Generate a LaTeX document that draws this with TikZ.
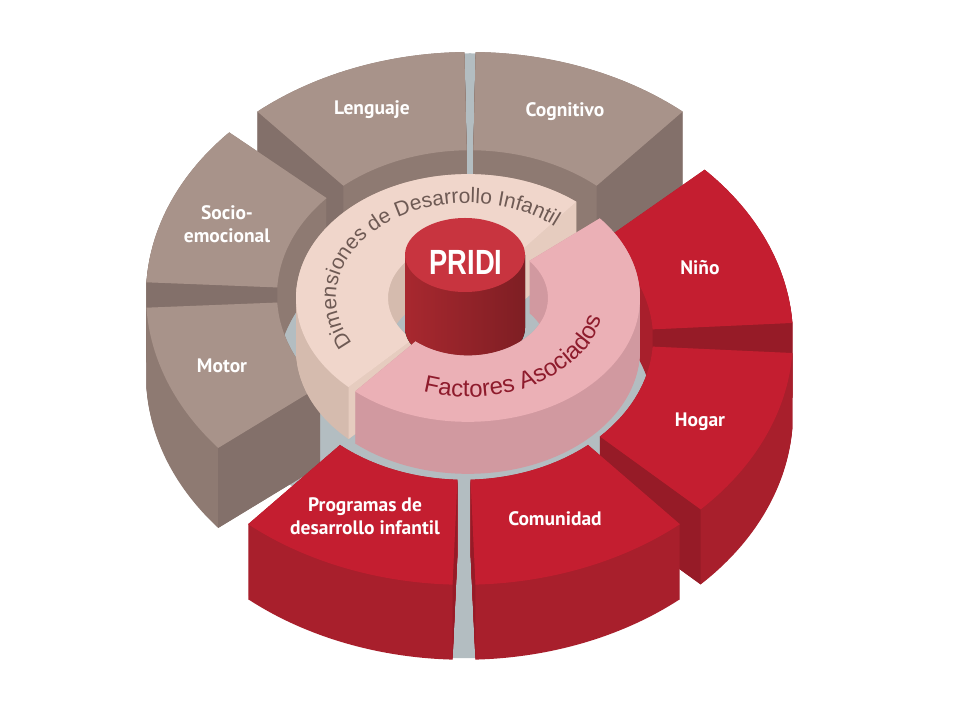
\documentclass[tikz,border=0pt]{standalone}
\usepackage{fontspec}
\setmainfont{Liberation Sans}
\newfontfamily\segfont{PT Sans}
\usetikzlibrary{decorations.text}

\definecolor{floortop}{HTML}{B3BDC1}
\definecolor{floorside}{HTML}{B3BDC1}
\definecolor{floorend}{HTML}{B3BDC1}
\definecolor{browntop}{HTML}{A8938A}
\definecolor{brownside}{HTML}{8E7A72}
\definecolor{brownend}{HTML}{83706A}
\definecolor{redtop}{HTML}{C41E30}
\definecolor{redside}{HTML}{A81F2C}
\definecolor{redend}{HTML}{961B27}
\definecolor{dimtop}{HTML}{F0D6CB}
\definecolor{dimside}{HTML}{D5BBAE}
\definecolor{dimend}{HTML}{E6CCBF}
\definecolor{factop}{HTML}{EBB0B6}
\definecolor{facside}{HTML}{D199A0}
\definecolor{facend}{HTML}{C48C92}
\definecolor{cyltop}{HTML}{C8343F}
\definecolor{cylside}{HTML}{A8282F}
\definecolor{dimtext}{HTML}{6E5A54}
\definecolor{factext}{HTML}{8E1B2C}

\newcommand{\dimfont}{\fontsize{21}{21}\selectfont}
\newcommand{\facfont}{\fontsize{24}{24}\selectfont}

% #1 centre, #2 yscale, #3 inner r, #4 outer r, #5 start, #6 end, #7 depth, #8 colour set
\newcommand{\ringpiece}[8]{%
  \begin{scope}[shift={#1}]
    \foreach \z in {0,...,#7}
      \fill[#8side, yshift=-\z, yscale=#2] (#5:#4) arc[start angle=#5, end angle=#6, radius=#4]
        -- (#6:#3) arc[start angle=#6, end angle=#5, radius=#3] -- cycle;
    \pgfmathtruncatemacro{\showa}{cos(#5)>0}
    \pgfmathtruncatemacro{\showb}{cos(#6)<0}
    \ifnum\showa=1
      \fill[#8end] ({#3*cos(#5)},{#2*#3*sin(#5)}) -- ({#4*cos(#5)},{#2*#4*sin(#5)})
        -- ++(0,-#7) -- ({#3*cos(#5)},{#2*#3*sin(#5)-#7}) -- cycle;
    \fi
    \ifnum\showb=1
      \fill[#8end] ({#3*cos(#6)},{#2*#3*sin(#6)}) -- ({#4*cos(#6)},{#2*#4*sin(#6)})
        -- ++(0,-#7) -- ({#3*cos(#6)},{#2*#3*sin(#6)-#7}) -- cycle;
    \fi
    \fill[#8top, yscale=#2] (#5:#4) arc[start angle=#5, end angle=#6, radius=#4]
      -- (#6:#3) arc[start angle=#6, end angle=#5, radius=#3] -- cycle;
  \end{scope}}

\begin{document}
\begin{tikzpicture}[x=1pt, y=1pt,
    seglabel/.style={text=white, align=center, font=\segfont\bfseries\fontsize{19.5}{23}\selectfont}]
  \useasboundingbox[fill=white] (0,0) rectangle (960,720);
  % grey showing through the gaps
  \fill[floortop] (467,390) ellipse[x radius=270, y radius=205];
  \ringpiece{(470,425)}{0.75}{193}{322}{88}{92}{80}{floor}
  \ringpiece{(464,382)}{0.75}{189}{327}{267}{273}{75}{floor}

  % outer ring, back half
  \ringpiece{(470,425)}{0.75}{193}{324}{49}{89}{80}{brown}
  \ringpiece{(470,425)}{0.75}{193}{324}{91}{131}{80}{brown}
  \ringpiece{(470,425)}{0.75}{193}{324}{138}{177}{80}{brown}
  \ringpiece{(464,382)}{0.75}{189}{329}{3.5}{43}{75}{red}
  \ringpiece{(470,425)}{0.75}{193}{324}{183}{219}{80}{brown}

  % inner ring and cylinder
  \ringpiece{(468,422)}{0.72}{80}{172}{51}{226}{52}{dim}
  \fill[left color=cylside, middle color=cylside!85!white, right color=cylside!75!black]
    (405,465) -- (405,392) arc[start angle=180, end angle=360, x radius=60, y radius=37] -- (525,465) -- cycle;
  \fill[cyltop] (465,465) ellipse[x radius=60, y radius=37];
  \ringpiece{(468,422)}{0.72}{80}{172}{229}{400}{52}{fac}

  % outer ring, front half
  \ringpiece{(464,382)}{0.75}{189}{329}{-44}{-3.5}{75}{red}
  \ringpiece{(464,382)}{0.75}{189}{329}{229}{268}{75}{red}
  \ringpiece{(464,382)}{0.75}{189}{329}{272}{311}{75}{red}

  % curved ring titles
  \begin{scope}[shift={(468,422)}]
    \path[decorate, decoration={text along path, text color=dimtext, text align=center,
        text={|\dimfont|Dimensiones de Desarrollo Infantil}}]
      (216:132 and 95) arc[start angle=216, end angle=42, x radius=132, y radius=95];
    \path[decorate, decoration={text along path, text color=factext, text align=center,
        text={|\facfont|Factores Asociados}}]
      (234:137 and 99) arc[start angle=234, end angle=370, x radius=137, y radius=99];
  \end{scope}

  \node[text=white, font=\bfseries\fontsize{35}{35}\selectfont] (pridi) at (466,458) {\scalebox{0.78}[1]{PRIDI}};
  \node[seglabel] (lenguaje) at (372,610) {Lenguaje};
  \node[seglabel] (cognitivo) at (565,608) {Cognitivo};
  \node[seglabel] (socio) at (227,496) {Socio-\\emocional};
  \node[seglabel] (motor) at (222,354) {Motor};
  \node[seglabel] (nino) at (700,452) {Niño};
  \node[seglabel] (hogar) at (700,298) {Hogar};
  \node[seglabel] (comunidad) at (555,201) {Comunidad};
  \node[seglabel] (programas) at (365,204) {Programas de\\desarrollo infantil};
\end{tikzpicture}
\end{document}
